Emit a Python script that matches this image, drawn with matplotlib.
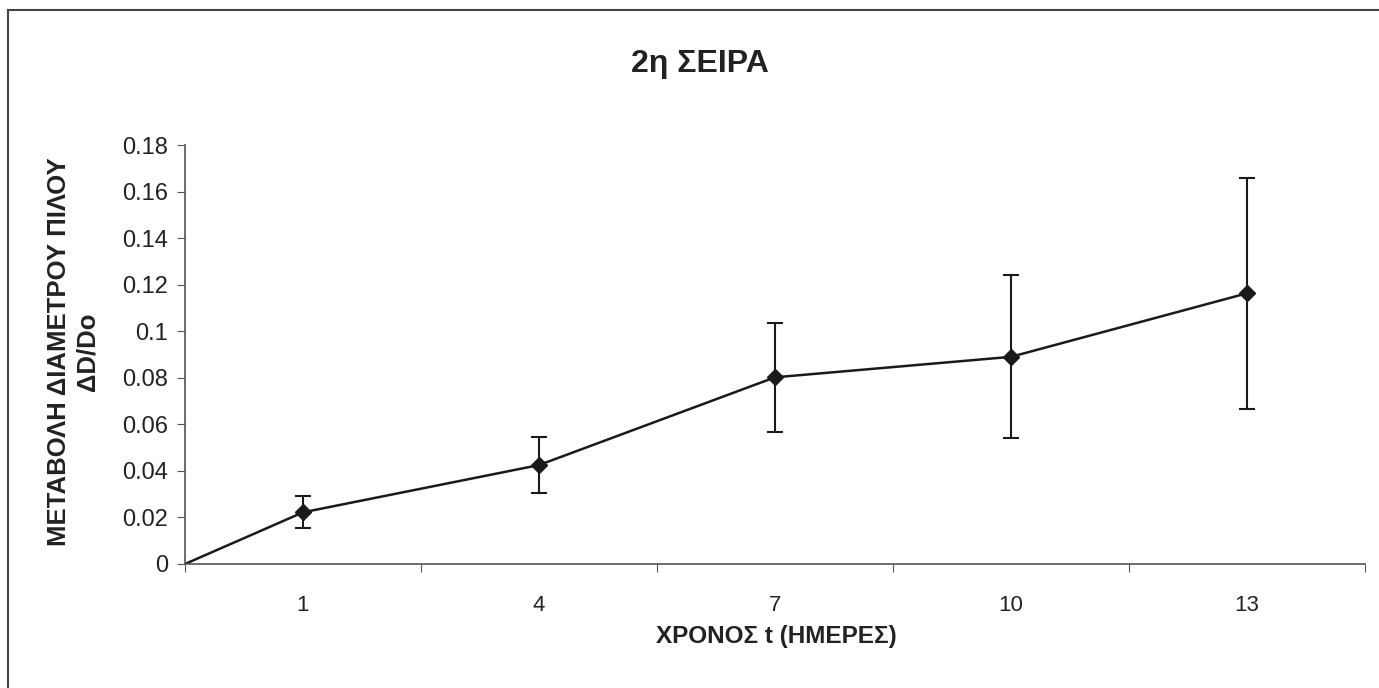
import matplotlib.pyplot as plt
import numpy as np
from matplotlib.patches import Rectangle

# Μεταβολή διαμέτρου πίλου ανά ημέρα (2η σειρά)
days = ['1', '4', '7', '10', '13']
dd_ratio = [0.0222, 0.0425, 0.0802, 0.0890, 0.1163]
dd_err = [0.0068, 0.0122, 0.0233, 0.0350, 0.0495]

plt.rcParams['font.family'] = ['Liberation Sans', 'DejaVu Sans']

fig = plt.figure(figsize=(13.79, 6.88), dpi=100)
ax = fig.add_axes([185 / 1379, 1 - 564 / 688, 1180 / 1379, 419 / 688])

# θέσεις κατηγοριών στο κέντρο κάθε διαστήματος
pos = np.arange(len(days)) + 0.5
x_line = np.concatenate([[0], pos])
y_line = np.concatenate([[0], dd_ratio])

ax.plot(x_line, y_line, color='#1a1a1a', lw=1.8)
ax.errorbar(pos, dd_ratio, yerr=dd_err, fmt='D', color='#1a1a1a', ms=8,
            ecolor='#1a1a1a', elinewidth=1.5, capsize=6, capthick=1.5)

ax.set_xlim(0, len(days))
ax.set_ylim(0, 0.18)
ax.set_yticks(np.arange(0, 0.181, 0.02))
ax.set_yticklabels(['0', '0.02', '0.04', '0.06', '0.08', '0.1', '0.12',
                    '0.14', '0.16', '0.18'])
ax.set_xticks(np.arange(len(days) + 1))
ax.set_xticklabels([])
ax.set_xticks(pos, minor=True)
ax.set_xticklabels(days, minor=True)
ax.tick_params(axis='x', which='minor', length=0, pad=22, labelsize=16,
               labelcolor='#222222')
ax.tick_params(axis='x', which='major', length=6, color='#555555')
ax.tick_params(axis='y', length=6, color='#555555', labelsize=17,
               labelcolor='#222222', pad=6)

for side in ['top', 'right']:
    ax.spines[side].set_visible(False)
for side in ['left', 'bottom']:
    ax.spines[side].set_color('#555555')
    ax.spines[side].set_linewidth(1.2)

fig.text(700 / 1379, 1 - 64 / 688, '2η ΣΕΙΡΑ', ha='center', va='center',
         fontsize=23, fontweight='bold', color='#222222')
fig.text(776 / 1379, 1 - 637 / 688, 'ΧΡΟΝΟΣ t (ΗΜΕΡΕΣ)', ha='center',
         va='center', fontsize=17.5, fontweight='bold', color='#222222')
fig.text(73 / 1379, 1 - 352 / 688, 'ΜΕΤΑΒΟΛΗ ΔΙΑΜΕΤΡΟΥ ΠΙΛΟΥ\nΔD/Do',
         ha='center', va='center', rotation=90, fontsize=18.5,
         fontweight='bold', color='#222222', linespacing=1.25)

# πλαίσιο γραφήματος
fig.patches.append(Rectangle((8 / 1379, -0.05), 1.2, 1 - 10 / 688 + 0.05,
                             transform=fig.transFigure, fill=False,
                             edgecolor='#444444', lw=1.5))

fig.savefig('out.png', dpi=100, facecolor='white')
